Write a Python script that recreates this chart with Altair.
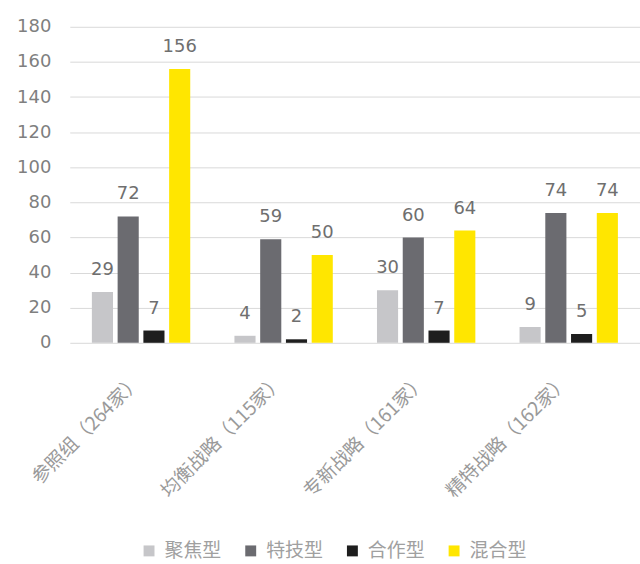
import altair as alt
import pandas as pd

categories = ["参照组（264家）", "均衡战略（115家）", "专新战略（161家）", "精特战略（162家）"]
series = ["聚焦型", "特技型", "合作型", "混合型"]
focus = [29, 4, 30, 9]
tech = [72, 59, 60, 74]
coop = [7, 2, 7, 5]
mixed = [156, 50, 64, 74]
colors = ["#c6c6c9", "#6b6b70", "#1e1e1e", "#ffe600"]
y_ticks = [0, 20, 40, 60, 80, 100, 120, 140, 160, 180]

rows = []
for s, vals in zip(series, [focus, tech, coop, mixed]):
    for c, v in zip(categories, vals):
        rows.append({"category": c, "series": s, "value": v})
df = pd.DataFrame(rows)

FONT_NUM = "DejaVu Sans"
FONT_CJK = "Noto Sans CJK SC"

x = alt.X("category:N", sort=categories, title=None,
          scale=alt.Scale(paddingInner=0.31, paddingOuter=0.155),
          axis=alt.Axis(labelAngle=-45, labelAlign="right", labelBaseline="middle",
                        labelFont=FONT_CJK, labelFontSize=19, labelColor="#9a9a9a",
                        labelPadding=35, labelOffset=-3, ticks=False, domain=False,
                        labelLimit=400, labelOverlap=False))
y = alt.Y("value:Q", title=None,
          scale=alt.Scale(domain=[0, 180], nice=False),
          axis=alt.Axis(values=y_ticks, tickCount=10, labelFont=FONT_NUM, labelFontSize=18,
                        labelColor="#7f7f7f", ticks=False, domain=False,
                        labelOverlap=False, labelPadding=19,
                        gridColor="#d9d9d9", gridWidth=1))
xo = alt.XOffset("series:N", sort=series,
                 scale=alt.Scale(paddingInner=0.18, paddingOuter=0))

bars = alt.Chart(df).mark_bar().encode(
    x=x, y=y, xOffset=xo,
    color=alt.Color("series:N", sort=series,
                    scale=alt.Scale(domain=series, range=colors),
                    legend=alt.Legend(title=None, orient="none", direction="horizontal",
                                      legendX=70, legendY=516, symbolType="square",
                                      symbolSize=120, labelFont=FONT_CJK, labelFontSize=19,
                                      labelColor="#a0a0a0", columnPadding=19,
                                      labelOffset=6, symbolStrokeWidth=0)),
)

labels = alt.Chart(df).mark_text(dy=-22, font=FONT_NUM, fontSize=18, color="#6f6f6f").encode(
    x=x, y=y, xOffset=xo, text="value:Q"
)

chart = alt.layer(bars, labels).properties(
    width=572, height=317,
    background="white",
    autosize=alt.AutoSizeParams(type="none"),
    padding={"left": 70, "top": 26, "right": 0, "bottom": 221},
).configure_view(stroke=None)

chart.save("out.html", embed_options={"renderer": "svg", "actions": False})
